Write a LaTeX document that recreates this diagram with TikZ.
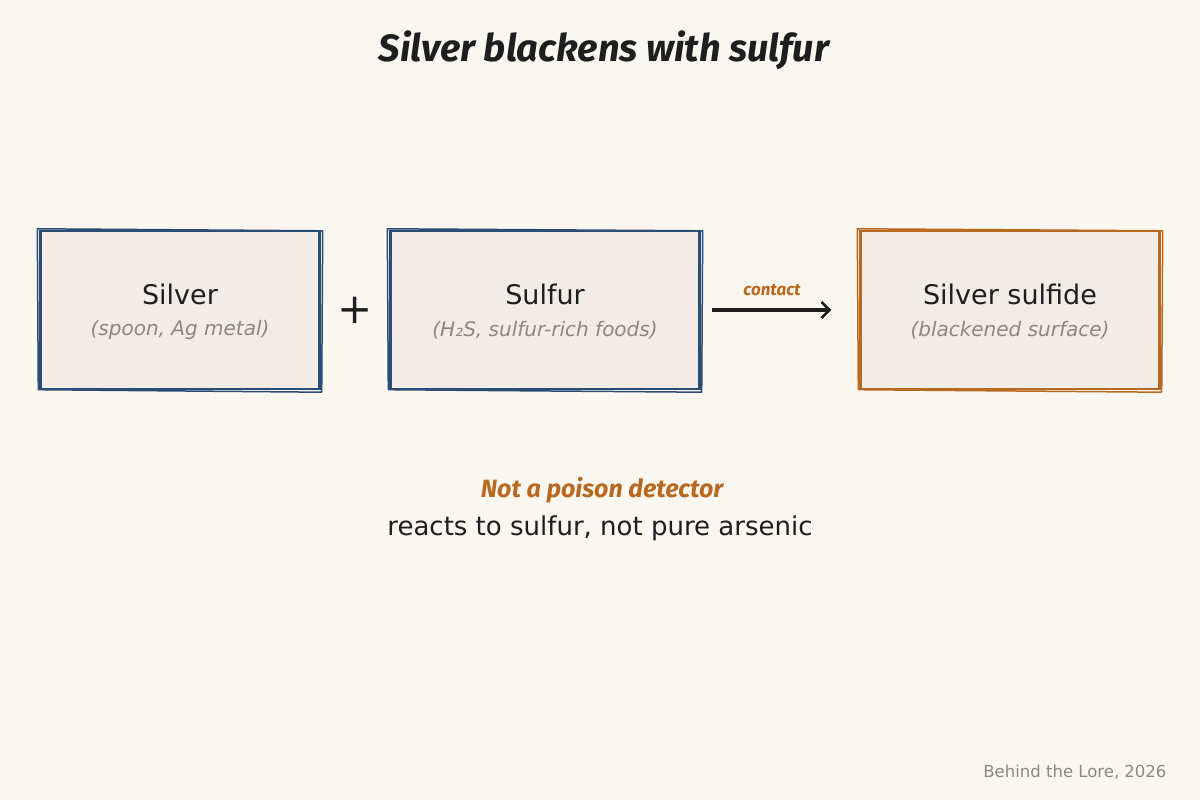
\documentclass[tikz,border=0pt]{standalone}
\usepackage{fontspec}
\setmainfont{DejaVu Sans}
\newfontfamily\handfont{Fira Sans}
\usetikzlibrary{arrows.meta,positioning,calc}

\definecolor{paper}{HTML}{FAF7F1}
\definecolor{boxfill}{HTML}{F1ECE5}
\definecolor{inkblue}{HTML}{2C4D73}
\definecolor{inkorange}{HTML}{B8691F}
\definecolor{inkdark}{HTML}{1E1E1E}
\definecolor{inkgray}{HTML}{8C8782}

\tikzset{
  stepbox/.style={draw=#1, fill=boxfill, line width=2.4pt, minimum height=158pt, inner sep=0pt},
  maintext/.style={text=inkdark, font=\fontsize{26}{30}\selectfont},
  subtext/.style={text=inkgray, font=\fontsize{20}{24}\selectfont\itshape},
  handtext/.style={text=inkorange, font=\handfont\itshape\bfseries\fontsize{#1}{#1}\selectfont},
}

% second, slightly skewed outline for the hand-drawn look
\newcommand{\sketchline}[2]{%
  \draw[#2, line width=1.5pt, line join=round]
    ([shift={(-2,-1)}]#1.north west) -- ([shift={(2,1)}]#1.north east)
    -- ([shift={(1,2)}]#1.south east) -- ([shift={(-1,-0.5)}]#1.south west) -- cycle;}

\begin{document}
\begin{tikzpicture}[x=1pt, y=-1pt]
  % page
  \fill[paper] (0,0) rectangle (1200,800);
  \useasboundingbox (0,0) rectangle (1200,800);

  % title
  \node[handtext=38, text=inkdark] (title) at (604,50) {Silver blackens with sulfur};

  % boxes
  \node[stepbox=inkblue, minimum width=279pt] (silver) at (180,310) {};
  \node[stepbox=inkblue, minimum width=309pt] (sulfur) at (545,310) {};
  \node[stepbox=inkorange, minimum width=299pt] (sulfide) at (1010,310) {};
  \sketchline{silver}{inkblue}
  \sketchline{sulfur}{inkblue}
  \sketchline{sulfide}{inkorange}

  % box texts
  \node[maintext, font=\fontsize{27}{30}\selectfont] (silverName) at ([yshift=16pt]silver.center) {Silver};
  \node[subtext] (silverNote) at ([yshift=-20pt]silver.center) {(spoon, Ag metal)};
  \node[maintext, font=\fontsize{27}{30}\selectfont] (sulfurName) at ([yshift=16pt]sulfur.center) {Sulfur};
  \node[subtext] (sulfurNote) at ([yshift=-20pt]sulfur.center) {(H₂S, sulfur-rich foods)};
  \node[maintext, font=\fontsize{27}{30}\selectfont] (sulfideName) at ([yshift=16pt]sulfide.center) {Silver sulfide};
  \node[subtext] (sulfideNote) at ([yshift=-20pt]sulfide.center) {(blackened surface)};

  % plus sign and reaction arrow
  \node[text=inkdark, font=\fontsize{42}{42}\selectfont] (plus) at ($(silver.east)!0.5!(sulfur.west)$) {+};
  \draw[inkdark, line width=3.4pt, shorten <=11pt, shorten >=28pt,
        -{Straight Barb[length=8pt, width=16pt, line width=2.6pt]}]
    (sulfur.east) -- (sulfide.west);
  \node[handtext=17] (contact) at (772,290) {contact};

  % caveat
  \node[handtext=25] (caveat) at (602,490) {Not a poison detector};
  \node[maintext] (caveatNote) at (600,528) {reacts to sulfur, not pure arsenic};

  % footer
  \node[anchor=east, text=inkgray, font=\fontsize{16.5}{20}\selectfont] (credit) at (1170,772) {Behind the Lore, 2026};
\end{tikzpicture}
\end{document}
